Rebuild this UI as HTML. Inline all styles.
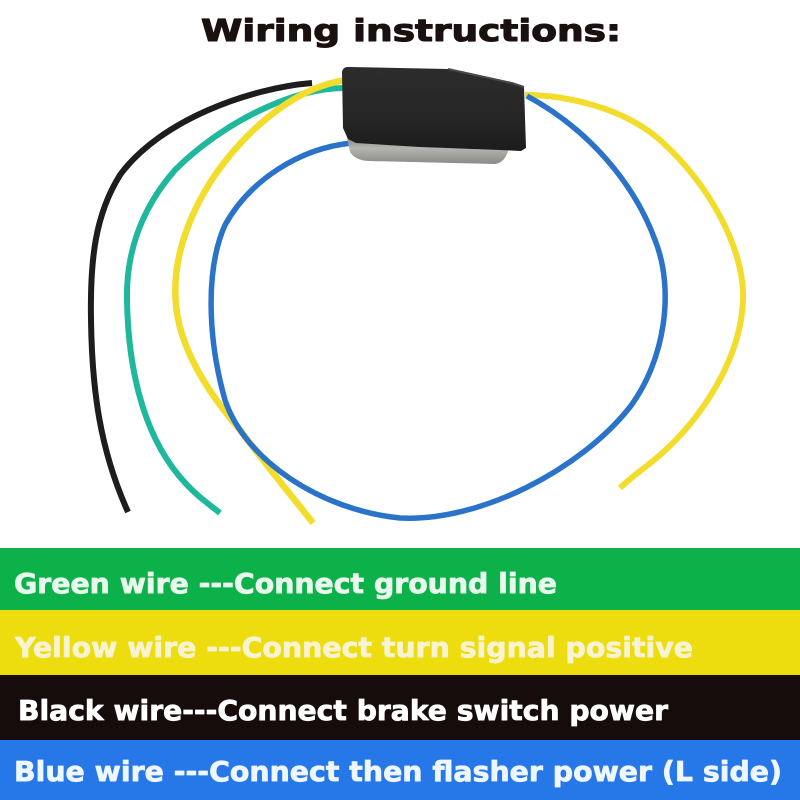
<!DOCTYPE html>
<html>
<head>
<meta charset="utf-8">
<style>
html,body{margin:0;padding:0;background:#fff;}
svg{display:block;}
</style>
</head>
<body>
<svg width="800" height="800" viewBox="0 0 800 800" xmlns="http://www.w3.org/2000/svg">
<defs>
<linearGradient id="silver" x1="0" y1="0" x2="0" y2="1">
<stop offset="0" stop-color="#6e6e6c"/>
<stop offset="0.5" stop-color="#b4b4b0"/>
<stop offset="1" stop-color="#8a8a86"/>
</linearGradient>
<linearGradient id="body" x1="0" y1="0" x2="0" y2="1">
<stop offset="0" stop-color="#2c2c2c"/>
<stop offset="0.6" stop-color="#262626"/>
<stop offset="1" stop-color="#1c1c1c"/>
</linearGradient>
</defs>
<rect width="800" height="800" fill="#ffffff"/>

<text x="201" y="41" font-family="'DejaVu Sans', Verdana, sans-serif" font-weight="bold" font-size="30" fill="#1a1010" stroke="#1a1010" stroke-width="1.1" stroke-linejoin="round" textLength="420" lengthAdjust="spacingAndGlyphs">Wiring instructions:</text>

<!-- wires -->
<g fill="none" stroke-linecap="butt">
<path d="M312,83 C250,88 160,120 120,175 C95,215 90,260 91,320 C92,390 100,450 128,512" stroke="#1d1d1f" stroke-width="6"/>
<path d="M345,88 C290,88 220,125 175,170 C140,210 126,255 127,300 C128,360 140,430 180,477 C195,495 210,505 220,513" stroke="#20b89c" stroke-width="6"/>
<path d="M348,80 C300,85 250,125 215,175 C185,220 172,265 176,305 C180,350 210,395 240,430 C270,470 295,500 313,523" stroke="#f2dc2c" stroke-width="6.5"/>
<path d="M525,95 C560,95 620,105 660,140 C710,185 745,250 743,300 C741,360 700,420 660,455 C645,468 630,478 620,488" stroke="#f2dc2c" stroke-width="6"/>
<path d="M352,143 C300,148 250,180 225,225 C205,270 208,340 225,400 C245,460 320,510 400,518 C480,522 580,470 630,407 C665,360 675,290 655,240 C635,185 590,130 527,96" stroke="#2a73c9" stroke-width="5.5"/>
</g>

<!-- module -->
<path d="M346,132 L350,152 Q355,160 368,161 L495,164 Q503,163 507,154 L511,142 Z" fill="url(#silver)"/>
<path d="M342,72 Q343,66 350,67 L448,69 L512,83 L524,87 L526,148 L521,151 L500,150 L420,147 L356,143 L348,139 L343,128 Z" fill="url(#body)"/>
<path d="M448,69 L512,83 L524,87" fill="none" stroke="#4a4a4a" stroke-width="2"/>

<!-- bands -->
<rect x="0" y="548" width="800" height="62" fill="#0db14a"/>
<rect x="0" y="610" width="800" height="65" fill="#eedd0e"/>
<rect x="0" y="675" width="800" height="65" fill="#160c0c"/>
<rect x="0" y="740" width="800" height="60" fill="#2677e8"/>

<g font-family="'DejaVu Sans', Verdana, sans-serif" font-weight="bold" font-size="28" stroke-width="0.8" stroke-linejoin="round">
<text x="14" y="593" fill="#e8f8ec" stroke="#e8f8ec" textLength="543" lengthAdjust="spacingAndGlyphs">Green wire ---Connect ground line</text>
<text x="15" y="657" fill="#f8f3d0" stroke="#f8f3d0" textLength="678" lengthAdjust="spacingAndGlyphs">Yellow wire ---Connect turn signal positive</text>
<text x="18" y="720" fill="#ffffff" stroke="#ffffff" textLength="650" lengthAdjust="spacingAndGlyphs">Black wire---Connect brake switch power</text>
<text x="14" y="781" fill="#eef6ff" stroke="#eef6ff" textLength="768" lengthAdjust="spacingAndGlyphs">Blue wire ---Connect then flasher power (L side)</text>
</g>
</svg>
</body>
</html>
